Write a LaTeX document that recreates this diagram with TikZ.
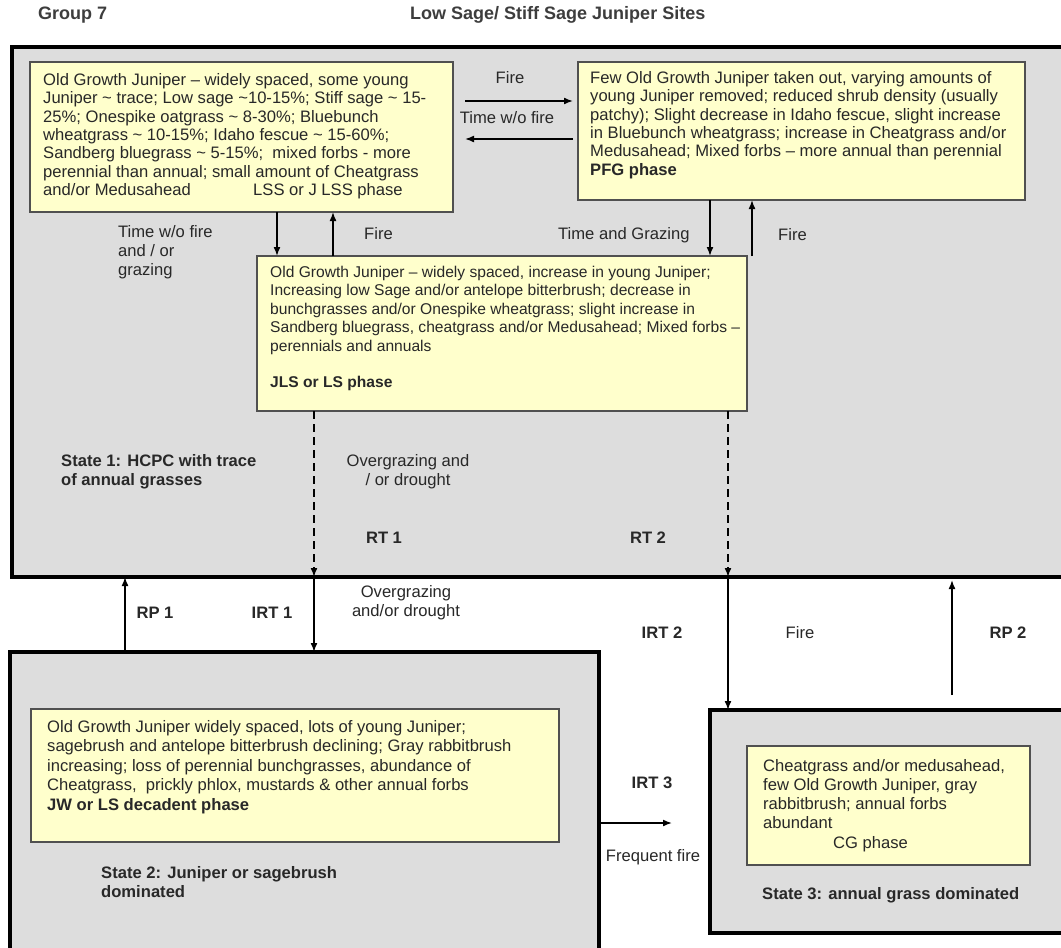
\documentclass[tikz,border=0pt]{standalone}
\usepackage{fontspec}
\setmainfont{Liberation Sans}
\usetikzlibrary{arrows.meta}
\definecolor{stategray}{RGB}{221,221,221}
\definecolor{boxyellow}{RGB}{255,255,204}
\definecolor{boxedge}{RGB}{80,80,80}
\definecolor{ink}{RGB}{40,40,40}
\newcommand{\tl}{\textasciitilde}
\begin{document}
\begin{tikzpicture}[x=1pt,y=-1pt,
  statebox/.style={draw=black, line width=4pt, fill=stategray, inner sep=0pt, outer sep=0pt, anchor=north west},
  ybox/.style={draw=boxedge, line width=1.8pt, fill=boxyellow, inner sep=0pt, outer sep=0pt, anchor=north west},
  btext/.style={anchor=north west, align=left, inner sep=0pt, text=ink, font=\fontsize{16.6}{18.4}\selectfont},
  lbl/.style={inner sep=0pt, text=ink, font=\fontsize{16.6}{19}\selectfont},
  blbl/.style={inner sep=0pt, text=ink, font=\bfseries\fontsize{16.6}{19.5}\selectfont},
  ttl/.style={inner sep=0pt, text=ink!90, anchor=west, font=\bfseries\fontsize{18}{22}\selectfont},
  arr/.style={line width=1.6pt, draw=black, -{Latex[length=9pt,width=7pt]}},
  dasharr/.style={arr, dash pattern=on 8pt off 5pt},
]
\useasboundingbox (0,0) rectangle (1061,948);
\fill[white] (0,0) rectangle (1061,948);
\clip (0,0) rectangle (1061,948);

% titles
\node[ttl] (g7) at (38,15) {Group 7};
\node[ttl] (title) at (410,15) {Low Sage/ Stiff Sage Juniper Sites};

% state boxes
\node[statebox, minimum width=1070pt, minimum height=530pt] (s1) at (12,47) {};
\node[statebox, minimum width=589pt, minimum height=320pt] (s2) at (10,652) {};
\node[statebox, minimum width=370pt, minimum height=223pt] (s3) at (710,710) {};

% yellow phase boxes
\node[ybox, minimum width=423pt, minimum height=150pt] (b1) at (30,62) {};
\node[ybox, minimum width=447pt, minimum height=138pt] (b2) at (578,62) {};
\node[ybox, minimum width=490pt, minimum height=155pt] (b3) at (257,256) {};
\node[ybox, minimum width=528pt, minimum height=133pt] (b4) at (31,709) {};
\node[ybox, minimum width=283pt, minimum height=119pt] (b5) at (747,746) {};

% box texts
\node[btext] (t1) at ([shift={(13,11)}]b1.north west) {Old Growth Juniper – widely spaced, some young\\
Juniper \tl{} trace; Low sage \tl10-15\%; Stiff sage \tl{} 15-\\
25\%; Onespike oatgrass \tl{} 8-30\%; Bluebunch\\
wheatgrass \tl{} 10-15\%; Idaho fescue \tl{} 15-60\%;\\
Sandberg bluegrass \tl{} 5-15\%;\ \ mixed forbs - more\\
perennial than annual; small amount of Cheatgrass\\
\makebox[210pt][l]{and/or Medusahead}LSS or J LSS phase};

\node[btext] (t2) at ([shift={(12,9)}]b2.north west) {Few Old Growth Juniper taken out, varying amounts of\\
young Juniper removed; reduced shrub density (usually\\
patchy); Slight decrease in Idaho fescue, slight increase\\
in Bluebunch wheatgrass; increase in Cheatgrass and/or\\
Medusahead; Mixed forbs – more annual than perennial\\
\textbf{PFG phase}};

\node[btext, font=\fontsize{15.6}{18.4}\selectfont] (t3) at ([shift={(13,10)}]b3.north west) {Old Growth Juniper – widely spaced, increase in young Juniper;\\
Increasing low Sage and/or antelope bitterbrush; decrease in\\
bunchgrasses and/or Onespike wheatgrass; slight increase in\\
Sandberg bluegrass, cheatgrass and/or Medusahead; Mixed forbs –\\
perennials and annuals\\[18.4pt]
\textbf{JLS or LS phase}};

\node[btext, font=\fontsize{16.6}{19.5}\selectfont] (t4) at ([shift={(16,11)}]b4.north west) {Old Growth Juniper widely spaced, lots of young Juniper;\\
sagebrush and antelope bitterbrush declining; Gray rabbitbrush\\
increasing; loss of perennial bunchgrasses, abundance of\\
Cheatgrass,\ \ prickly phlox, mustards \& other annual forbs\\
\textbf{JW or LS decadent phase}};

\node[btext, font=\fontsize{16.6}{19.2}\selectfont] (t5) at ([shift={(16,13)}]b5.north west) {Cheatgrass and/or medusahead,\\
few Old Growth Juniper, gray\\
rabbitbrush; annual forbs\\
abundant\\
\hspace*{70pt}CG phase};

% transitions inside state 1
\draw[arr] ([shift={(12,39)}]b1.north east) -- ([shift={(-5,39)}]b2.north west);
\draw[arr] ([shift={(-5,77)}]b2.north west) -- ([shift={(12,77)}]b1.north east);
\node[lbl] (lfire1) at (510,78) {Fire};
\node[lbl] (ltwf1) at (507,118) {Time w/o fire};

\draw[arr] ([shift={(247,0)}]b1.south west) -- ([shift={(20,0)}]b3.north west);
\draw[arr] ([shift={(76,0)}]b3.north west) -- ([shift={(303,0)}]b1.south west);
\node[lbl, anchor=north west, align=left] (ltwf2) at (118,225) {Time w/o fire\\and / or\\grazing};
\node[lbl, anchor=west] (lfire2) at (364,234) {Fire};

\draw[arr] ([shift={(132,0)}]b2.south west) -- ([shift={(453,0)}]b3.north west);
\draw[arr] ([shift={(495,0)}]b3.north west) -- ([shift={(174,0)}]b2.south west);
\node[lbl, anchor=west] (ltg) at (558,235) {Time and Grazing};
\node[lbl, anchor=west] (lfire3) at (778,235) {Fire};

\draw[dasharr] ([shift={(57,0)}]b3.south west) -- ([shift={(302,0)}]s1.south west);
\draw[dasharr] ([shift={(471,0)}]b3.south west) -- ([shift={(716,0)}]s1.south west);

\node[blbl, anchor=north west, align=left] (ls1) at (61,454) {State 1: HCPC with trace\\of annual grasses};
\node[lbl, align=center] (log1) at (408,472) {Overgrazing and\\/ or drought};
\node[blbl] (lrt1) at (384,538) {RT 1};
\node[blbl] (lrt2) at (648,538) {RT 2};

% transitions between states
\draw[arr] ([shift={(115,0)}]s2.north west) -- ([shift={(113,0)}]s1.south west);
\draw[arr] ([shift={(302,0)}]s1.south west) -- ([shift={(304,0)}]s2.north west);
\node[blbl] (lrp1) at (155,613) {RP 1};
\node[blbl] (lirt1) at (272,613) {IRT 1};
\node[lbl, align=center] (log2) at (406,603) {Overgrazing\\and/or drought};

\draw[arr] ([shift={(716,0)}]s1.south west) -- ([shift={(18,0)}]s3.north west);
\node[blbl] (lirt2) at (662,633) {IRT 2};
\node[lbl] (lfire4) at (800,633) {Fire};

\coordinate (rp2s) at (952,695);
\draw[arr] (rp2s) -- ([shift={(940,3)}]s1.south west);
\node[blbl] (lrp2) at (1008,633) {RP 2};

\coordinate (irt3e) at (672,823);
\draw[arr] ([shift={(0,171)}]s2.north east) -- (irt3e);
\node[blbl] (lirt3) at (652,783) {IRT 3};
\node[lbl] (lff) at (653,857) {Frequent fire};

% state labels
\node[blbl, anchor=north west, align=left] (ls2) at (101,866) {State 2: Juniper or sagebrush\\dominated};
\node[blbl, anchor=west] (ls3) at (762,895) {State 3: annual grass dominated};
\end{tikzpicture}
\end{document}
